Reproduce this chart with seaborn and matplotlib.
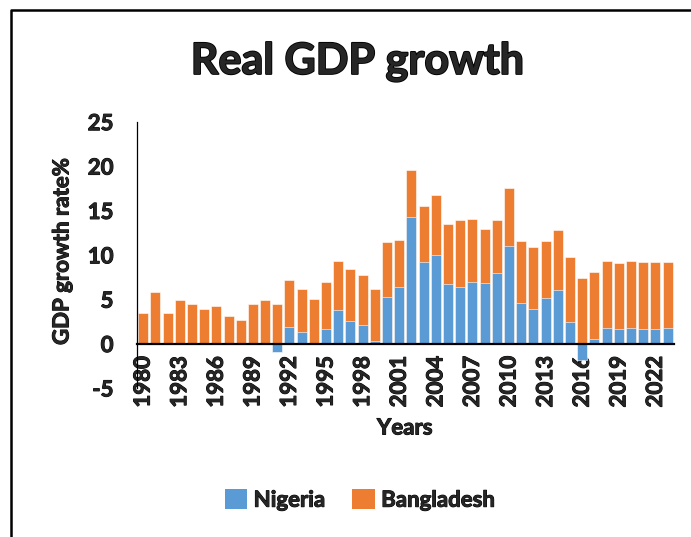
import matplotlib
matplotlib.use("Agg")
import matplotlib.pyplot as plt
import matplotlib.patheffects as pe
import seaborn as sns
import numpy as np
import pandas as pd
from matplotlib.lines import Line2D
from matplotlib.patches import Patch

years = list(range(1980, 2024))
nigeria = [0, 0, 0, 0, 0, 0, 0, 0, 0, 0, 0,
           -0.9, 1.9, 1.3, 0.1, 1.6, 3.8, 2.6, 2.1, 0.3, 5.2,
           6.4, 14.3, 9.2, 10.0, 6.7, 6.4, 6.9, 6.8, 8.0, 11.0,
           4.6, 3.9, 5.1, 6.0, 2.4, -1.8, 0.5, 1.8, 1.6, 1.8,
           1.6, 1.6, 1.8]
bangladesh = [3.4, 5.8, 3.5, 4.9, 4.5, 3.9, 4.2, 3.1, 2.7, 4.5, 4.9,
              4.5, 5.3, 4.9, 4.9, 5.3, 5.5, 5.8, 5.6, 5.9, 6.2,
              5.3, 5.3, 6.3, 6.7, 6.8, 7.5, 7.1, 6.1, 5.9, 6.5,
              7.0, 7.0, 6.5, 6.8, 7.4, 7.4, 7.6, 7.5, 7.5, 7.5,
              7.6, 7.6, 7.4]
tick_years = list(range(1980, 2024, 3))

BLUE = "#5B9BD5"
ORANGE = "#ED7D31"
W = "bold"
PE = [pe.withStroke(linewidth=0.7, foreground="black")]
PE_T = [pe.withStroke(linewidth=1.3, foreground="black")]

sns.set_theme(style="white")
plt.rcParams['font.family'] = ['Lato', 'DejaVu Sans']

df = pd.DataFrame({"Year": [str(y) for y in years],
                   "Nigeria": nigeria,
                   "Bangladesh": bangladesh})
df["Top"] = df["Nigeria"].clip(lower=0) + df["Bangladesh"]

fig = plt.figure(figsize=(6.91, 5.37), dpi=100)
ax = fig.add_axes([0.1983, 0.2775, 0.7767, 0.4959])

sns.barplot(data=df, x="Year", y="Top", color=ORANGE, saturation=1,
            width=0.82, edgecolor="white", linewidth=0.4, ax=ax)
sns.barplot(data=df, x="Year", y="Nigeria", color=BLUE, saturation=1,
            width=0.82, edgecolor="white", linewidth=0.4, ax=ax)

for s in ["top", "right"]:
    ax.spines[s].set_visible(False)
ax.spines["bottom"].set_position(("data", 0))
ax.spines["bottom"].set_color("black")
ax.spines["bottom"].set_linewidth(1.6)
ax.spines["left"].set_color("black")
ax.spines["left"].set_linewidth(0.9)
ax.spines["bottom"].set_zorder(5)

ax.set_ylim(-5, 25)
ax.set_xlim(-0.5, len(years) - 0.5)
ax.set_yticks([-5, 0, 5, 10, 15, 20, 25])
ax.set_yticklabels(["-5", "0", "5", "10", "15", "20", "25"],
                   fontsize=16, fontweight=W)
pos = [years.index(y) for y in tick_years]
ax.set_xticks(pos)
ax.set_xticklabels([str(y) for y in tick_years], rotation=90,
                   fontsize=16, fontweight=W)
ax.tick_params(axis="x", length=0, pad=9)
ax.tick_params(axis="y", length=0, pad=17)
for t in ax.get_xticklabels() + ax.get_yticklabels():
    t.set_path_effects(PE)

ax.set_xlabel("")
ax.set_ylabel("")
fig.text(0.586, 0.203, "Years", ha="center", va="center",
         fontsize=16, fontweight=W, path_effects=PE)
fig.text(0.0897, 0.532, "GDP growth rate%", ha="center", va="center",
         rotation=90, fontsize=16, fontweight=W, path_effects=PE)
fig.text(0.517, 0.886, "Real GDP growth", ha="center", va="center",
         fontsize=31, fontweight=W, path_effects=PE_T)

handles = [Patch(facecolor=BLUE, edgecolor="none", label="Nigeria"),
           Patch(facecolor=ORANGE, edgecolor="none", label="Bangladesh")]
leg = fig.legend(handles=handles, loc="center", bbox_to_anchor=(0.521, 0.069),
                 ncol=2, frameon=False, prop={"size": 16, "weight": W},
                 handlelength=1.0, handleheight=1.0, handletextpad=0.3,
                 columnspacing=1.2)
for t in leg.get_texts():
    t.set_path_effects(PE)

fig.add_artist(Line2D([0.0159, 0.0159, 1.0], [0.0, 0.9814, 0.9814],
                      transform=fig.transFigure, color="black", linewidth=1.8))

fig.savefig("out.png", dpi=100)
